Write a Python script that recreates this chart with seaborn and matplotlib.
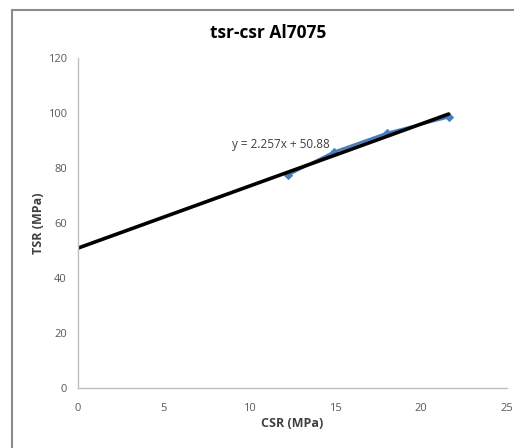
import matplotlib
matplotlib.use("Agg")
import matplotlib.pyplot as plt
import seaborn as sns
import numpy as np
import pandas as pd
from matplotlib.lines import Line2D

# values
csr = [12.25, 14.9, 18.0, 21.6]
tsr = [77.5, 85.8, 92.7, 98.5]
slope = 2.257
intercept = 50.88
trend_x = [0, 21.6]
x_ticks = [0, 5, 10, 15, 20, 25]
y_ticks = [0, 20, 40, 60, 80, 100, 120]

df = pd.DataFrame({'CSR': csr, 'TSR': tsr})
trend = pd.DataFrame({'x': trend_x, 'y': [slope * v + intercept for v in trend_x]})

sns.set_style("white")
plt.rcParams['font.family'] = ['Open Sans', 'DejaVu Sans']

fig = plt.figure(figsize=(5.14, 4.48), dpi=100)
ax = fig.add_axes([0.1518, 0.1339, 0.8346, 0.7366])

# outer chart frame: only left and top edges are in view
fx = 11.5 / 514
fy = 1 - 10 / 448
fig.add_artist(Line2D([fx, fx], [0, fy], transform=fig.transFigure,
                      color='#8c8c8c', linewidth=1.5))
fig.add_artist(Line2D([fx, 1], [fy, fy], transform=fig.transFigure,
                      color='#8c8c8c', linewidth=1.5))

sns.lineplot(data=df, x='CSR', y='TSR', ax=ax, color='#4a7ebb', linewidth=2,
             marker='D', markersize=4, markeredgecolor='#4a7ebb')
sns.lineplot(data=trend, x='x', y='y', ax=ax, color='black', linewidth=2.6)

ax.set_xlim(0, 25)
ax.set_ylim(0, 120)
ax.set_xticks(x_ticks)
ax.set_yticks(y_ticks)
for s in ['top', 'right']:
    ax.spines[s].set_visible(False)
for s in ['left', 'bottom']:
    ax.spines[s].set_color('#bfbfbf')
    ax.spines[s].set_linewidth(1)
ax.tick_params(axis='both', which='both', direction='out', length=4, width=1,
               color='#bfbfbf', labelcolor='#595959', labelsize=8, pad=4)
ax.tick_params(axis='x', pad=7)

ax.set_xlabel('CSR (MPa)', fontsize=9, fontweight='bold', color='#404040', labelpad=2)
ax.set_ylabel('TSR (MPa)', fontsize=9, fontweight='bold', color='#404040', labelpad=2)

ax.text(11.8, 88.6, f'y = {slope}x + {intercept}', fontsize=8.5, color='#404040',
        ha='center', va='center')

fig.text(268 / 514, 1 - 33 / 448, 'tsr-csr Al7075', fontsize=12.5, fontweight='bold',
         color='#000000', ha='center', va='center')

fig.savefig('out.png', dpi=100)
